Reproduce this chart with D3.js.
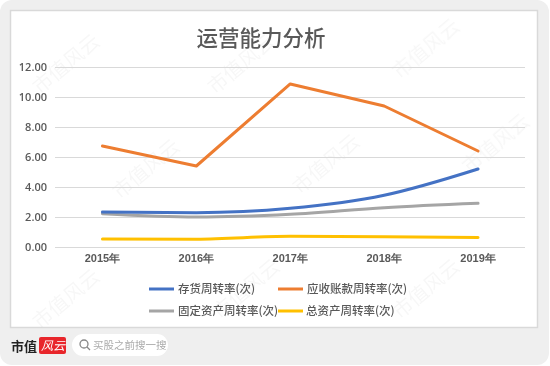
<!DOCTYPE html>
<html><head><meta charset="utf-8">
<script src="https://cdn.jsdelivr.net/npm/d3@7"></script>
<style>html,body{margin:0;padding:0;background:#fff;}svg{display:block;font-family:"Noto Sans CJK SC","Noto Sans",sans-serif;}</style>
</head><body>
<script>
const title = "运营能力分析";
const categories = ["2015年","2016年","2017年","2018年","2019年"];
const seriesNames = ["存货周转率(次)","应收账款周转率(次)","固定资产周转率(次)","总资产周转率(次)"];
const inventoryTurnover = [2.33, 2.29, 2.58, 3.45, 5.2];
const receivablesTurnover = [6.73, 5.4, 10.87, 9.4, 6.4];
const fixedAssetTurnover = [2.22, 2.0, 2.18, 2.62, 2.91];
const totalAssetTurnover = [0.53, 0.52, 0.71, 0.69, 0.64];
const yTicks = [0, 2, 4, 6, 8, 10, 12];
const colors = ["#4472C4", "#ED7D31", "#A5A5A5", "#FFC000"];

const W = 550, H = 366;
const svg = d3.select("body").append("svg").attr("width", W).attr("height", H);

svg.append("rect").attr("x",0).attr("y",0).attr("width",W).attr("height",H).attr("fill","#fff");
svg.append("rect").attr("x",0).attr("y",0).attr("width",W-1).attr("height",H-1).attr("rx",12).attr("fill","#efefef");
svg.append("rect").attr("x",10.5).attr("y",10.5).attr("width",527).attr("height",317)
  .attr("fill","#fff").attr("stroke","#d9d9d9").attr("stroke-width",1.5);

// faint watermarks
const wm = svg.append("g").attr("fill","#000").attr("opacity",0.035).attr("font-size",20);
[[40,95],[215,95],[400,80],[120,200],[300,195],[470,175],[40,330],[220,320],[400,320]].forEach(p=>{
  wm.append("text").attr("transform",`translate(${p[0]},${p[1]}) rotate(-40)`).text("市值风云");
});

const x = d3.scaleBand().domain(categories).range([55.5, 525]);
const y = d3.scaleLinear().domain([0, 12]).range([247, 67]);

svg.append("text").attr("x", 261).attr("y", 46).attr("text-anchor","middle")
  .attr("font-size", 21.5).attr("font-weight",500).attr("fill","#595959").text(title);

const grid = svg.append("g");
grid.selectAll("line").data(yTicks).join("line")
  .attr("x1", 55).attr("x2", 525)
  .attr("y1", d => Math.round(y(d))+0.5).attr("y2", d => Math.round(y(d))+0.5)
  .attr("stroke","#d9d9d9").attr("stroke-width",1);

const yAxis = d3.axisLeft(y).tickValues(yTicks).tickFormat(d3.format(".2f")).tickSize(0).tickPadding(0);
const ga = svg.append("g").attr("transform","translate(47,0)").call(yAxis);
ga.select(".domain").remove();
ga.selectAll("text").attr("font-size", 11).attr("fill","#595959").attr("font-family","'Open Sans','Noto Sans',sans-serif").attr("font-weight",600);

const xAxis = d3.axisBottom(x).tickSize(0).tickPadding(0);
const gx = svg.append("g").attr("transform","translate(0,254)").call(xAxis);
gx.select(".domain").remove();
gx.selectAll("text").attr("font-size", 11).attr("fill","#595959").attr("font-weight",700);

const allSeries = [inventoryTurnover, receivablesTurnover, fixedAssetTurnover, totalAssetTurnover];
const drawOrder = [3, 2, 0, 1];
drawOrder.forEach(i => {
  const line = d3.line().x((d,j) => x(categories[j]) + x.bandwidth()/2).y(d => y(d))
    .curve(i === 1 ? d3.curveLinear : d3.curveMonotoneX);
  svg.append("path").datum(allSeries[i]).attr("d", line)
    .attr("fill","none").attr("stroke", colors[i]).attr("stroke-width", 3)
    .attr("stroke-linejoin","round").attr("stroke-linecap","round");
});

const legendPos = [[149,289],[278,289],[149,311],[278,311]];
seriesNames.forEach((n,i) => {
  const g = svg.append("g").attr("transform",`translate(${legendPos[i][0]},${legendPos[i][1]})`);
  g.append("line").attr("x1",0).attr("x2",25).attr("y1",0).attr("y2",0).attr("stroke",colors[i]).attr("stroke-width",3);
  g.append("text").attr("x", i===3 ? 28 : 29).attr("y", 4).attr("font-size", 11.5).attr("fill","#595959").attr("font-weight",500).text(n);
});

svg.append("text").attr("x",11).attr("y",351).attr("font-size",13).attr("font-weight",700).attr("fill","#222").text("市值");
svg.append("rect").attr("x",39).attr("y",337).attr("width",27).attr("height",17).attr("rx",2).attr("fill","#e8262b");
svg.append("text").attr("x",41).attr("y",350).attr("font-size",12).attr("fill","#fff").attr("font-style","italic").text("风云");
svg.append("rect").attr("x",72).attr("y",334).attr("width",96).attr("height",22).attr("rx",11).attr("fill","#fff");
svg.append("circle").attr("cx",84).attr("cy",344).attr("r",4).attr("fill","none").attr("stroke","#888").attr("stroke-width",1.3);
svg.append("line").attr("x1",87).attr("y1",347).attr("x2",90).attr("y2",350).attr("stroke","#888").attr("stroke-width",1.3);
svg.append("text").attr("x",93).attr("y",349).attr("font-size",10.5).attr("fill","#aaa").text("买股之前搜一搜");
</script>
</body></html>
